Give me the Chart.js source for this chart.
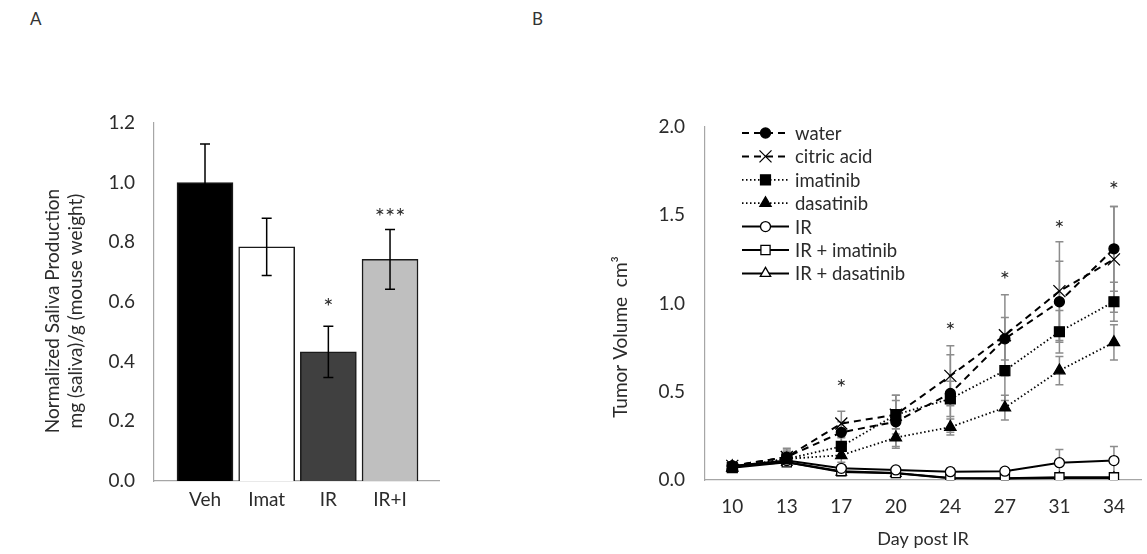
<!DOCTYPE html>
<html>
<head>
<meta charset="utf-8">
<title>Saliva production and tumor volume</title>
<script src="https://cdn.jsdelivr.net/npm/chart.js@4.4.0/dist/chart.umd.min.js"></script>
<style>
  html, body { margin: 0; padding: 0; background: #fff; overflow: hidden; }
  body { width: 1147px; height: 554px; position: relative; font-family: Lato, sans-serif; }
  .panel-label { position: absolute; font-size: 17px; color: #333; }
  #chartA { position: absolute; left: 0; top: 0; }
  #chartB { position: absolute; left: 560px; top: 0; }
</style>
</head>
<body>
<div class="panel-label" style="left:30px; top:8px;">A</div>
<div class="panel-label" style="left:532px; top:8px;">B</div>
<canvas id="chartA" width="560" height="554"></canvas>
<canvas id="chartB" width="591" height="554"></canvas>

<script>
// panel A - saliva
const groups = ['Veh', 'Imat', 'IR', 'IR+I'];
const saliva = [1.00, 0.785, 0.433, 0.743];
const salivaErr = [0.13, 0.096, 0.086, 0.10];
const salivaStars = ['', '', '*', '***'];
const salivaStarAt = [null, null, 0.60, 0.90];
const yTicksA = [0, 0.2, 0.4, 0.6, 0.8, 1.0, 1.2];

// panel B - tumor volume
const days = ['10', '13', '17', '20', '24', '27', '31', '34'];
const seriesNames = ['water', 'citric acid', 'imatinib', 'dasatinib', 'IR', 'IR + imatinib', 'IR + dasatinib'];
const water      = [0.08, 0.13, 0.27, 0.33, 0.49, 0.80, 1.01, 1.31];
const citricAcid = [0.08, 0.13, 0.32, 0.37, 0.59, 0.82, 1.07, 1.25];
const imatinib   = [0.07, 0.12, 0.19, 0.37, 0.46, 0.62, 0.84, 1.01];
const dasatinib  = [0.07, 0.12, 0.14, 0.24, 0.30, 0.41, 0.62, 0.78];
const irOnly     = [0.08, 0.11, 0.066, 0.057, 0.047, 0.05, 0.098, 0.11];
const irImatinib = [0.07, 0.10, 0.05, 0.04, 0.012, 0.01, 0.015, 0.015];
const irDasatinib= [0.08, 0.10, 0.045, 0.038, 0.01, 0.008, 0.012, 0.012];
const waterErr      = [0.02, 0.04, 0.06, 0.15, 0.22, 0.12, 0.23, 0.24];
const citricAcidErr = [0.02, 0.05, 0.07, 0.11, 0.17, 0.23, 0.28, 0.30];
const imatinibErr   = [0.02, 0.04, 0.05, 0.08, 0.10, 0.17, 0.12, 0.11];
const dasatinibErr  = [0.02, 0.03, 0.04, 0.05, 0.045, 0.07, 0.08, 0.10];
const irOnlyErr     = [0.02, 0.03, 0.02, 0.02, 0.02, 0.02, 0.075, 0.08];
const irImatinibErr = [0.01, 0.02, 0.02, 0.01, 0.01, 0.01, 0.01, 0.01];
const irDasatinibErr= [0.01, 0.02, 0.02, 0.01, 0.01, 0.01, 0.01, 0.01];
const dayStars   = ['', '', '*', '', '*', '*', '*', '*'];
const dayStarAt  = [null, null, 0.55, null, 0.87, 1.16, 1.45, 1.67];
const yTicksB = [0, 0.5, 1.0, 1.5, 2.0];

const seriesValues = [water, citricAcid, imatinib, dasatinib, irOnly, irImatinib, irDasatinib];
const seriesErrors = [waterErr, citricAcidErr, imatinibErr, dasatinibErr, irOnlyErr, irImatinibErr, irDasatinibErr];

const fontFamily = 'Lato, "Open Sans", sans-serif';
const textDark = '#2b2b2b';
const axisGrey = '#a6a6a6';
Chart.defaults.font.family = fontFamily;
Chart.defaults.color = textDark;

// line / marker look for each series of panel B
const lineStyles = [
  { dash: [7, 5],      width: 2,   point: 'circle',   r: 5,   fill: '#000' },
  { dash: [7, 5],      width: 2,   point: 'crossRot', r: 8.5, fill: '#000' },
  { dash: [1.5, 2.5],  width: 1.8, point: 'rect',     r: 7,   fill: '#000' },
  { dash: [1.5, 2.5],  width: 1.8, point: 'triangle', r: 6.5, fill: '#000' },
  { dash: [],          width: 2,   point: 'circle',   r: 5,   fill: '#fff' },
  { dash: [],          width: 2,   point: 'rect',     r: 6.5, fill: '#fff' },
  { dash: [],          width: 2,   point: 'triangle', r: 6,   fill: '#fff' }
];

// rotated y title drawn at a fixed spot
function sideTitle(id, lines, x0, yc, gap, size) {
  return {
    id: id,
    afterDraw(chart) {
      const ctx = chart.ctx;
      ctx.save();
      ctx.font = size + 'px ' + fontFamily;
      ctx.fillStyle = textDark;
      ctx.textAlign = 'center';
      ctx.textBaseline = 'middle';
      lines.forEach((t, i) => {
        ctx.save();
        ctx.translate(x0 + i * gap, yc);
        ctx.rotate(-Math.PI / 2);
        ctx.fillText(t, 0, 0);
        ctx.restore();
      });
      ctx.restore();
    }
  };
}

function drawMarker(ctx, style, x, y, r, fill) {
  ctx.beginPath();
  if (style === 'circle') {
    ctx.arc(x, y, r, 0, Math.PI * 2);
  } else if (style === 'rect') {
    const s = r * Math.SQRT1_2;
    ctx.rect(x - s, y - s, 2 * s, 2 * s);
  } else if (style === 'triangle') {
    let a = 0;
    ctx.moveTo(x + Math.sin(a) * r, y - Math.cos(a) * r);
    a += Math.PI * 2 / 3;
    ctx.lineTo(x + Math.sin(a) * r, y - Math.cos(a) * r);
    a += Math.PI * 2 / 3;
    ctx.lineTo(x + Math.sin(a) * r, y - Math.cos(a) * r);
    ctx.closePath();
  } else if (style === 'crossRot') {
    const o = r * Math.SQRT1_2;
    ctx.moveTo(x - o, y - o); ctx.lineTo(x + o, y + o);
    ctx.moveTo(x - o, y + o); ctx.lineTo(x + o, y - o);
  }
  if (style !== 'crossRot') {
    ctx.fillStyle = fill;
    ctx.fill();
  }
  ctx.stroke();
}

// ---------- Panel A ----------
const errorBarsA = {
  id: 'errorBarsA',
  afterDatasetsDraw(chart) {
    const { ctx, scales: { x, y } } = chart;
    ctx.save();
    ctx.strokeStyle = '#000';
    ctx.lineWidth = 1.5;
    saliva.forEach((v, i) => {
      const px = x.getPixelForValue(i + 1);
      const top = y.getPixelForValue(v + salivaErr[i]);
      const bot = y.getPixelForValue(v - salivaErr[i]);
      ctx.beginPath();
      ctx.moveTo(px, top); ctx.lineTo(px, bot);
      ctx.moveTo(px - 5, top); ctx.lineTo(px + 5, top);
      ctx.moveTo(px - 5, bot); ctx.lineTo(px + 5, bot);
      ctx.stroke();
    });
    ctx.font = '24px ' + fontFamily;
    ctx.fillStyle = textDark;
    ctx.textAlign = 'center';
    ctx.textBaseline = 'middle';
    salivaStars.forEach((s, i) => {
      if (!s) return;
      ctx.fillText(s, x.getPixelForValue(i + 1), y.getPixelForValue(salivaStarAt[i]) + 5);
    });
    ctx.restore();
  }
};

new Chart(document.getElementById('chartA'), {
  type: 'bar',
  data: {
    datasets: [{
      data: saliva.map((v, i) => ({ x: i + 1, y: v })),
      backgroundColor: ['#000000', '#ffffff', '#404040', '#bfbfbf'],
      borderColor: '#1a1a1a',
      borderWidth: 1.5,
      barThickness: 56
    }]
  },
  options: {
    responsive: false,
    animation: false,
    layout: { padding: { top: 123, right: 121, left: 0, bottom: 0 } },
    plugins: { legend: { display: false }, tooltip: { enabled: false } },
    scales: {
      x: {
        type: 'linear',
        min: 0.173,
        max: 4.794,
        offset: false,
        grid: { display: false, drawTicks: false, offset: false },
        border: { color: axisGrey, width: 1.2 },
        afterBuildTicks: (axis) => { axis.ticks = groups.map((g, i) => ({ value: i + 1 })); },
        afterFit: (axis) => { axis.height = 73; },
        ticks: {
          font: { size: 19 },
          padding: 7,
          callback: (v, i) => groups[i]
        }
      },
      y: {
        min: 0,
        max: 1.2,
        grid: { display: false, drawTicks: false },
        border: { color: axisGrey, width: 1.2 },
        afterBuildTicks: (axis) => { axis.ticks = yTicksA.map(v => ({ value: v })); },
        afterFit: (axis) => { axis.width = 154; },
        ticks: {
          font: { size: 19 },
          padding: 19,
          callback: (v) => v.toFixed(1)
        }
      }
    }
  },
  plugins: [errorBarsA, sideTitle('titleA', ['Normalized Saliva Production', 'mg (saliva)/g (mouse weight)'], 53, 311, 23, 19)]
});

// ---------- Panel B ----------
const errorBarsB = {
  id: 'errorBarsB',
  beforeDatasetsDraw(chart) {
    const { ctx, scales: { x, y } } = chart;
    ctx.save();
    ctx.strokeStyle = '#8c8c8c';
    ctx.lineWidth = 1.5;
    seriesValues.forEach((vals, s) => {
      vals.forEach((v, i) => {
        const e = seriesErrors[s][i];
        const px = x.getPixelForValue(i);
        const top = y.getPixelForValue(v + e);
        const bot = y.getPixelForValue(Math.max(0, v - e));
        ctx.beginPath();
        ctx.moveTo(px, top); ctx.lineTo(px, bot);
        ctx.moveTo(px - 4, top); ctx.lineTo(px + 4, top);
        ctx.moveTo(px - 4, bot); ctx.lineTo(px + 4, bot);
        ctx.stroke();
      });
    });
    ctx.restore();
  },
  afterDatasetsDraw(chart) {
    const { ctx, scales: { x, y } } = chart;
    ctx.save();
    ctx.font = '24px ' + fontFamily;
    ctx.fillStyle = textDark;
    ctx.textAlign = 'center';
    ctx.textBaseline = 'middle';
    dayStars.forEach((s, i) => {
      if (!s) return;
      ctx.fillText(s, x.getPixelForValue(i), y.getPixelForValue(dayStarAt[i]) + 5);
    });
    ctx.restore();
  }
};

const legendB = {
  id: 'legendB',
  afterDraw(chart) {
    const ctx = chart.ctx;
    const left = chart.chartArea.left + 37;
    ctx.save();
    seriesNames.forEach((name, i) => {
      const st = lineStyles[i];
      const yy = 133 + i * 23.4;
      ctx.strokeStyle = '#000';
      ctx.lineWidth = st.width;
      ctx.setLineDash(st.dash);
      ctx.beginPath();
      ctx.moveTo(left, yy); ctx.lineTo(left + 47, yy);
      ctx.stroke();
      ctx.setLineDash([]);
      ctx.lineWidth = 1.3;
      drawMarker(ctx, st.point, left + 23.5, yy, st.r, st.fill);
      ctx.font = '18.5px ' + fontFamily;
      ctx.fillStyle = textDark;
      ctx.textAlign = 'left';
      ctx.textBaseline = 'middle';
      ctx.fillText(name, left + 53, yy + 1);
    });
    ctx.restore();
  }
};

new Chart(document.getElementById('chartB'), {
  type: 'line',
  data: {
    labels: days,
    datasets: seriesValues.map((vals, i) => ({
      label: seriesNames[i],
      data: vals,
      borderColor: '#000',
      borderWidth: lineStyles[i].width,
      borderDash: lineStyles[i].dash,
      pointStyle: lineStyles[i].point,
      pointRadius: lineStyles[i].r,
      pointBackgroundColor: lineStyles[i].fill,
      pointBorderColor: '#000',
      pointBorderWidth: 1.3,
      tension: 0,
      fill: false
    }))
  },
  options: {
    responsive: false,
    animation: false,
    layout: { padding: { top: 127, right: 0, left: 0, bottom: 0 } },
    plugins: { legend: { display: false }, tooltip: { enabled: false } },
    scales: {
      x: {
        offset: true,
        grid: { display: false, drawTicks: false },
        border: { color: axisGrey, width: 1.2 },
        afterFit: (axis) => { axis.height = 74; },
        ticks: { font: { size: 19 }, padding: 15 },
        title: {
          display: true,
          text: 'Day post IR',
          font: { size: 18 },
          padding: { top: 0, bottom: 4 }
        }
      },
      y: {
        min: 0,
        max: 2,
        grid: { display: false, drawTicks: false },
        border: { color: axisGrey, width: 1.2 },
        afterBuildTicks: (axis) => { axis.ticks = yTicksB.map(v => ({ value: v })); },
        afterFit: (axis) => { axis.width = 145; },
        ticks: {
          font: { size: 19 },
          padding: 20,
          callback: (v) => v.toFixed(1)
        }
      }
    }
  },
  plugins: [errorBarsB, legendB, sideTitle('titleB', ['Tumor Volume  cm³'], 61, 337, 0, 19)]
});
</script>
</body>
</html>
